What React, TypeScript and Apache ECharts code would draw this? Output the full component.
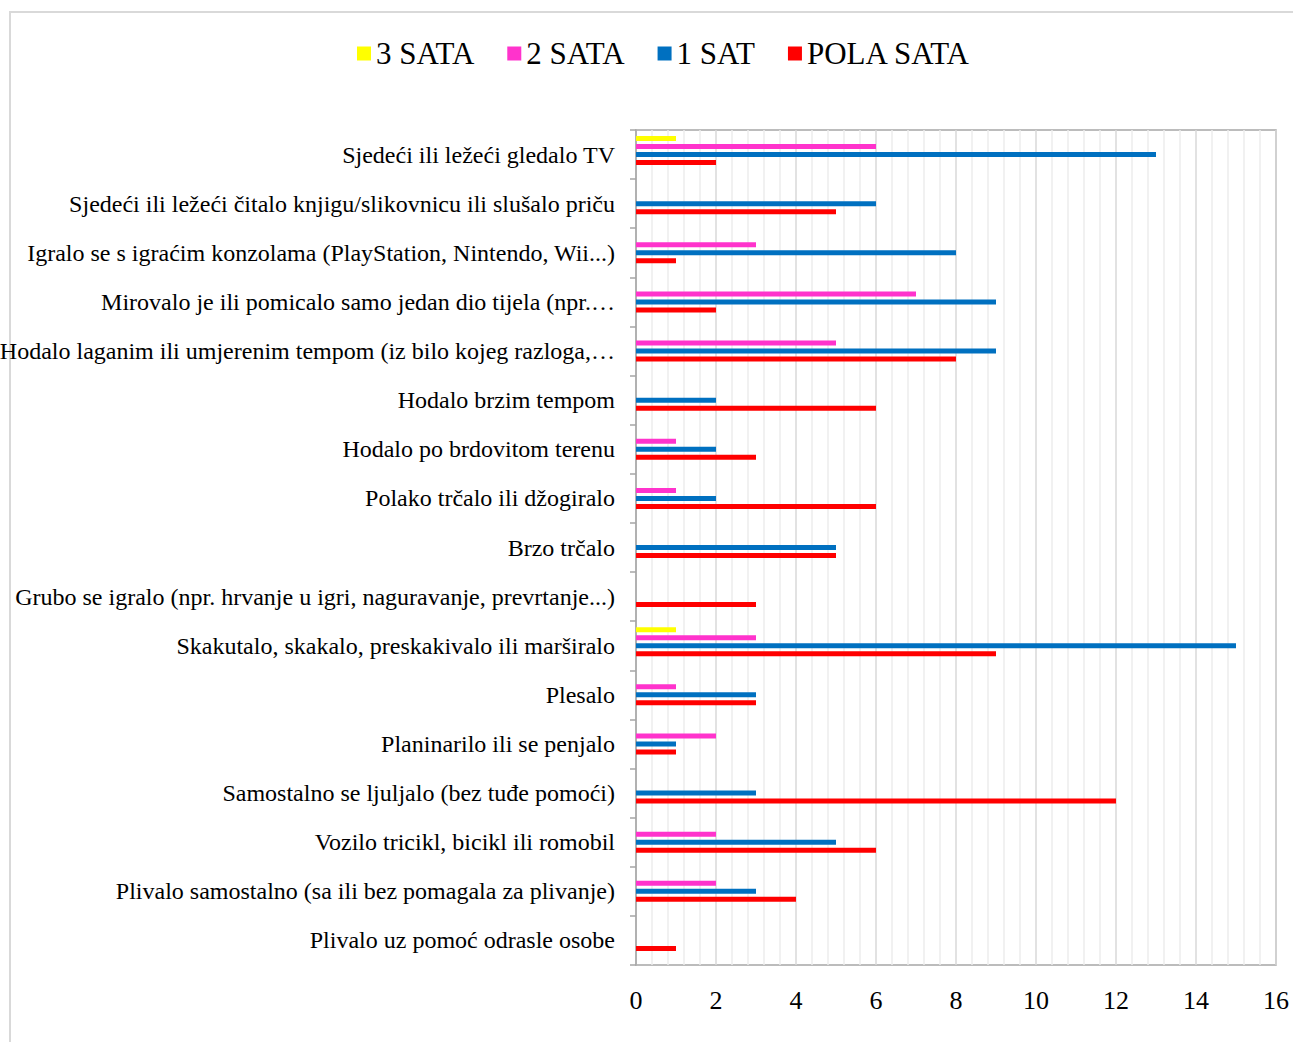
import React, { useEffect, useRef } from "react";
import * as echarts from "echarts";

const categories = [
  "Sjedeći ili ležeći gledalo TV",
  "Sjedeći ili ležeći čitalo knjigu/slikovnicu ili slušalo priču",
  "Igralo se s igraćim konzolama (PlayStation, Nintendo, Wii...)",
  "Mirovalo je ili pomicalo samo jedan dio tijela (npr.…",
  "Hodalo laganim ili umjerenim tempom (iz bilo kojeg razloga,…",
  "Hodalo brzim tempom",
  "Hodalo po brdovitom terenu",
  "Polako trčalo ili džogiralo",
  "Brzo trčalo",
  "Grubo se igralo (npr. hrvanje u igri, naguravanje, prevrtanje...)",
  "Skakutalo, skakalo, preskakivalo ili marširalo",
  "Plesalo",
  "Planinarilo ili se penjalo",
  "Samostalno se ljuljalo (bez tuđe pomoći)",
  "Vozilo tricikl, bicikl ili romobil",
  "Plivalo samostalno (sa ili bez pomagala za plivanje)",
  "Plivalo uz pomoć odrasle osobe",
];

const seriesNames = ["3 SATA", "2 SATA", "1 SAT", "POLA SATA"];
const tri = [1, null, null, null, null, null, null, null, null, null, 1, null, null, null, null, null, null];
const dva = [6, null, 3, 7, 5, null, 1, 1, null, null, 3, 1, 2, null, 2, 2, null];
const jedan = [13, 6, 8, 9, 9, 2, 2, 2, 5, null, 15, 3, 1, 3, 5, 3, null];
const pola = [2, 5, 1, 2, 8, 6, 3, 6, 5, 3, 9, 3, 1, 12, 6, 4, 1];
const seriesData = [tri, dva, jedan, pola];
const colors = ["#ffff00", "#ff33cc", "#0070c0", "#ff0000"];
const xTicks = { min: 0, max: 16, interval: 2 };

const FONT = "'Liberation Serif', 'Times New Roman', serif";

export default function App() {
  const ref = useRef<HTMLDivElement>(null);
  useEffect(() => {
    if (!ref.current) return;
    const chart = echarts.init(ref.current, null, { renderer: "svg" });
    const barSeries: any[] = seriesNames.map((name, i) => ({
      name,
      type: "bar",
      data: seriesData[i],
      barWidth: 5,
      barGap: "60%",
      itemStyle: { color: colors[i] },
    }));
    // empty spacer slot (keeps the group placed as in the original)
    barSeries.push({
      name: "spacer",
      type: "bar",
      data: [],
      barWidth: 5,
      barGap: "60%",
      silent: true,
    });
    chart.setOption({
      animation: false,
      backgroundColor: "#ffffff",
      textStyle: { fontFamily: FONT, color: "#000" },
      graphic: [
        {
          type: "rect",
          shape: { x: 10, y: 12, width: 1320, height: 1100 },
          style: { fill: "none", stroke: "#d9d9d9", lineWidth: 2 },
          silent: true,
        },
      ],
      legend: {
        top: 33,
        left: 352,
        itemWidth: 14,
        itemHeight: 14,
        itemGap: 33,
        icon: "rect",
        textStyle: { fontFamily: FONT, fontSize: 31, color: "#000" },
        data: seriesNames,
      },
      grid: {
        left: 636,
        top: 130,
        right: 17,
        bottom: 77,
        show: true,
        borderColor: "#a6a6a6",
        borderWidth: 1.5,
        containLabel: false,
        outerBoundsMode: "none",
      },
      xAxis: {
        type: "value",
        min: xTicks.min,
        max: xTicks.max,
        interval: xTicks.interval,
        axisLine: { show: false },
        axisTick: { show: false },
        axisLabel: { fontFamily: FONT, fontSize: 26, color: "#000", margin: 22 },
        splitLine: { show: true, lineStyle: { color: "#d9d9d9", width: 1.5 } },
        minorTick: { show: false, splitNumber: 5 },
        minorSplitLine: { show: true, lineStyle: { color: "#ececec", width: 1.5 } },
      },
      yAxis: {
        type: "category",
        inverse: true,
        data: categories,
        axisLine: { show: true, lineStyle: { color: "#a6a6a6", width: 1.5 } },
        axisTick: { show: true, length: 6, lineStyle: { color: "#a6a6a6", width: 1.5 } },
        axisLabel: { fontFamily: FONT, fontSize: 24, color: "#000", margin: 21 },
        splitLine: { show: false },
      },
      series: barSeries,
    });
    return () => chart.dispose();
  }, []);
  return (
    <div
      ref={ref}
      style={{ position: "fixed", left: 0, top: 0, width: 1293, height: 1042 }}
    />
  );
}
